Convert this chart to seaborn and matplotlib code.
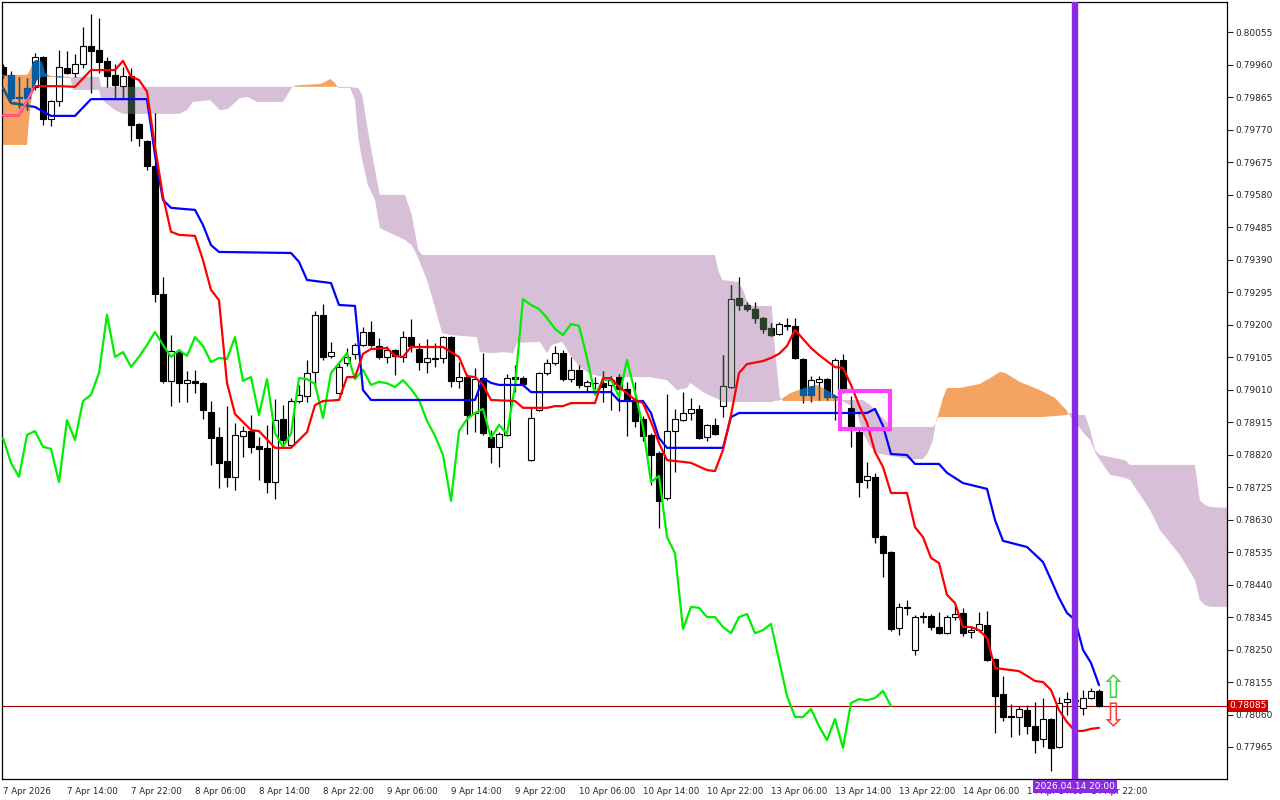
import numpy as np
import matplotlib
matplotlib.use("Agg")
import matplotlib.pyplot as plt
import matplotlib.transforms as mtransforms
from matplotlib.patches import Rectangle
from matplotlib.path import Path
import seaborn as sns

sns.set_style("white")
plt.rcParams['font.family'] = ['DejaVu Sans']

# ---- H1 candles, 7 Apr 06:00 .. 14 Apr 23:00 ----
open_ = [
    .79955, .79863, .79863, .79863, .79896, .79983, .79802, .79855, .79951, .79936,
    .79963, .80015, .80004, .79972, .79931, .79898, .79928, .79787, .79738, .79664,
    .79290, .79036, .79120, .79030, .79036, .79030, .78945, .78872, .78802, .78755,
    .78875, .78889, .78845, .78840, .78740, .78924, .78848, .78977, .78992, .79062,
    .79229, .79109, .79000, .79088, .79115, .79141, .79179, .79138, .79106, .79126,
    .79106, .79164, .79129, .79091, .79103, .79103, .79164, .79036, .79047, .78942,
    .79044, .78872, .78843, .78878, .79047, .79044, .78804, .78951, .79059, .79088,
    .79117, .79041, .79068, .79021, .79030, .79030, .79024, .79047, .79012, .78980,
    .78924, .78878, .78825, .78693, .78889, .78921, .78942, .78954, .78872, .78907,
    .78962, .79018, .79278, .79258, .79246, .79220, .79191, .79173, .79199, .79196,
    .79100, .78995, .79033, .79041, .78989, .79097, .78957, .78886, .78746, .78755,
    .78582, .78535, .78313, .78375, .78249, .78348, .78348, .78316, .78298, .78345,
    .78357, .78301, .78307, .78322, .78222, .78120, .78056, .78053, .78073, .78026,
    .77988, .78047, .77965, .78097, .78100, .78079, .78108, .78129]
high = [
    .79963, .79942, .79925, .79922, .79995, .79986, .79857, .80004, .80001, .79992,
    .80071, .80109, .80097, .79983, .79963, .79954, .79951, .79790, .79740, .79819,
    .79340, .79170, .79126, .79065, .79068, .79032, .78977, .78901, .78962, .78913,
    .78904, .78936, .78872, .78907, .78983, .78965, .78986, .79024, .79097, .79240,
    .79261, .79150, .79088, .79132, .79147, .79194, .79211, .79161, .79138, .79129,
    .79182, .79217, .79147, .79158, .79147, .79167, .79167, .79091, .79056, .79074,
    .79117, .78892, .78886, .79056, .79082, .79050, .78957, .79062, .79100, .79138,
    .79126, .79106, .79082, .79038, .79047, .79065, .79050, .79056, .79033, .79033,
    .78933, .78883, .78831, .78998, .78954, .79003, .78986, .78965, .78910, .78927,
    .79112, .79316, .79340, .79267, .79267, .79223, .79205, .79208, .79220, .79220,
    .79103, .79050, .79050, .79044, .79103, .79115, .78992, .78901, .78799, .78766,
    .78585, .78538, .78386, .78395, .78351, .78360, .78354, .78360, .78351, .78380,
    .78372, .78316, .78360, .78363, .78225, .78173, .78091, .78085, .78088, .78097,
    .78108, .78050, .78111, .78126, .78117, .78132, .78138, .78135]
low = [
    .79922, .79857, .79834, .79828, .79887, .79784, .79781, .79840, .79934, .79925,
    .79951, .79878, .79936, .79896, .79863, .79863, .79738, .79723, .79653, .79267,
    .79030, .78962, .78974, .78974, .79000, .78924, .78790, .78723, .78726, .78717,
    .78813, .78825, .78746, .78708, .78690, .78848, .78843, .78971, .78974, .79012,
    .79097, .79103, .78998, .79079, .79100, .79138, .79135, .79100, .79088, .79053,
    .79091, .79120, .79068, .79059, .79077, .79088, .79018, .79015, .78881, .78886,
    .78878, .78796, .78784, .78875, .79003, .79021, .78802, .78948, .79053, .79082,
    .79036, .79033, .79015, .79003, .79012, .78974, .78951, .78948, .78875, .78901,
    .78860, .78731, .78606, .78687, .78769, .78919, .78921, .78866, .78860, .78878,
    .78930, .79015, .79243, .79240, .79205, .79176, .79167, .79170, .79185, .79100,
    .78971, .78974, .78980, .78980, .78921, .79000, .78843, .78696, .78723, .78562,
    .78462, .78304, .78293, .78351, .78234, .78328, .78307, .78295, .78295, .78336,
    .78290, .78284, .78301, .78217, .78006, .78041, .77994, .78000, .78003, .77947,
    .77965, .77895, .77962, .78059, .78079, .78059, .78105, .78082]
close_ = [
    .79931, .79931, .79866, .79893, .79983, .79802, .79855, .79954, .79936, .79963,
    .80015, .80001, .79969, .79928, .79901, .79928, .79784, .79746, .79664, .79290,
    .79036, .79123, .79030, .79038, .79030, .78951, .78869, .78796, .78755, .78878,
    .78889, .78843, .78837, .78740, .78921, .78863, .78977, .78995, .79059, .79229,
    .79106, .79120, .79077, .79106, .79141, .79179, .79141, .79106, .79126, .79109,
    .79164, .79138, .79091, .79103, .79100, .79164, .79036, .79047, .78936, .79041,
    .78883, .78843, .78881, .79044, .79041, .79027, .78927, .79059, .79088, .79117,
    .79041, .79068, .79024, .79033, .79029, .79018, .79038, .79012, .78980, .78919,
    .78875, .78819, .78685, .78889, .78924, .78942, .78954, .78869, .78907, .78881,
    .79021, .79275, .79258, .79246, .79220, .79188, .79170, .79202, .79197, .79103,
    .78995, .79038, .79041, .78989, .79097, .79003, .78901, .78740, .78758, .78579,
    .78532, .78310, .78375, .78372, .78345, .78345, .78316, .78298, .78345, .78354,
    .78298, .78307, .78325, .78219, .78114, .78053, .78053, .78076, .78026, .77985,
    .78047, .77962, .78094, .78105, .78102, .78108, .78129, .78085]

# ---- Tenkan-sen (red) ----
tenkan_x = [0, 2, 4, 7, 9, 11, 14, 15, 16, 17,
            18, 19, 20, 21, 22, 24, 25, 26, 27, 28,
            29, 31, 32, 34, 36, 38, 39, 40, 42, 43,
            44, 45, 46, 48, 49, 50, 51, 55, 56, 57,
            58, 59, 60, 61, 64, 65, 68, 69, 70, 71,
            74, 75, 76, 77, 78, 79, 80, 81, 82, 83,
            85, 86, 88, 89, 90, 91, 92, 93, 95, 96,
            97, 98, 99, 101, 102, 104, 105, 106, 107, 108,
            109, 110, 111, 113, 114, 115, 116, 117, 118, 119,
            120, 121, 122, 123, 124, 125, 127, 128, 129, 130,
            131, 132, 133, 134, 135, 136, 137]
tenkan_y = [.79812, .79812, .79898, .79898, .79896, .79945, .79945, .79972, .79926, .79916,
            .79882, .79721, .79575, .79472, .79463, .79460, .79389, .79302, .79272, .79030,
            .78939, .78892, .78889, .78840, .78840, .78886, .78965, .78977, .78980, .79047,
            .79047, .79115, .79129, .79132, .79109, .79106, .79135, .79135, .79120, .79106,
            .79050, .79047, .79024, .78980, .78977, .78957, .78957, .78962, .78962, .78971,
            .78971, .79044, .79044, .79018, .79000, .78980, .78971, .78916, .78854, .78804,
            .78799, .78796, .78775, .78772, .78834, .78936, .79059, .79085, .79094, .79103,
            .79115, .79138, .79185, .79132, .79112, .79076, .79074, .79024, .78965, .78913,
            .78828, .78784, .78708, .78708, .78608, .78579, .78518, .78503, .78410, .78386,
            .78316, .78316, .78307, .78284, .78196, .78193, .78187, .78173, .78158, .78155,
            .78132, .78073, .78038, .78012, .78012, .78018, .78021]

# ---- Kijun-sen (blue) ----
kijun_x = [0, 1, 4, 6, 9, 11, 18, 19, 20, 21,
           24, 25, 26, 27, 36, 37, 38, 41, 42, 44,
           45, 46, 59, 60, 61, 62, 65, 66, 76, 77,
           80, 81, 82, 83, 90, 91, 92, 108, 109, 110,
           111, 113, 114, 117, 118, 120, 123, 124, 125, 128,
           130, 131, 132, 133, 134, 135, 136, 137]
kijun_y = [.79893, .79849, .79837, .79811, .79811, .79860, .79860, .79697, .79565, .79542,
           .79536, .79492, .79433, .79413, .79410, .79384, .79331, .79322, .79258, .79255,
           .79009, .78980, .78980, .79044, .79030, .79024, .79024, .79003, .79003, .78977,
           .78977, .78942, .78869, .78840, .78840, .78930, .78942, .78942, .78954, .78904,
           .78822, .78819, .78793, .78793, .78767, .78737, .78720, .78629, .78568, .78550,
           .78506, .78454, .78401, .78357, .78337, .78249, .78211, .78146]

# ---- Kumo (Senkou Span A / B, shifted 26 bars ahead) ----
cloud_x = [-0.5, 3.0, 3.25, 3.5, 3.75, 4.25, 4.9, 5.25, 5.9, 8.4,
           8.75, 12.0, 12.25, 13.0, 14.0, 15.0, 22.1, 23.0, 23.75, 25.9,
           27.1, 28.1, 29.6, 30.6, 31.75, 35.0, 36.1, 36.6, 37.1, 39.6,
           40.25, 40.9, 41.5, 41.9, 43.4, 44.0, 44.4, 44.9, 45.6, 46.5,
           47.1, 50.25, 51.1, 51.9, 52.4, 53.0, 53.75, 54.25, 54.9, 55.9,
           59.25, 59.6, 61.1, 62.5, 63.75, 64.25, 67.1, 68.0, 68.6, 69.9,
           70.9, 72.1, 73.4, 75.0, 80.9, 83.0, 84.25, 85.5, 85.9, 87.5,
           89.0, 89.4, 89.9, 91.9, 92.5, 93.1, 93.6, 96.1, 96.5, 97.1,
           97.5, 98.4, 100.5, 101.75, 103.0, 104.6, 105.1, 105.9, 106.75, 107.5,
           108.4, 109.25, 110.25, 111.1, 113.4, 115.0, 115.6, 116.25, 116.6, 116.9,
           117.5, 118.0, 119.6, 122.1, 123.4, 124.6, 125.25, 127.1, 129.6, 131.5,
           132.9, 133.4, 134.6, 135.25, 135.9, 136.5, 137.1, 138.4, 140.25, 140.9,
           143.4, 144.6, 147.1, 149.0, 149.6, 150.25, 150.9, 153.5]
span_a = [.79931, .79931, .79939, .79951, .79969, .79975, .79969, .79936, .79928, .79925,
          .79887, .79887, .79863, .79846, .79828, .79817, .79817, .79828, .79852, .79857,
          .79828, .79831, .79863, .79866, .79852, .79852, .79893, .79900, .79901, .79904,
          .79910, .79919, .79907, .79893, .79893, .79857, .79749, .79682, .79609, .79565,
          .79483, .79448, .79433, .79395, .79366, .79331, .79272, .79229, .79176, .79170,
          .79164, .79120, .79117, .79120, .79117, .79147, .79150, .79117, .79141, .79150,
          .79112, .79076, .79056, .79047, .79047, .79038, .79009, .79015, .79030, .79003,
          .78986, .78983, .78974, .78974, .78974, .78974, .78974, .78974, .78977, .78979,
          .78986, .79000, .79018, .79024, .79009, .78986, .78974, .78965, .78942, .78883,
          .78843, .78825, .78819, .78816, .78807, .78807, .78825, .78863, .78916, .78936,
          .78986, .79015, .79015, .79027, .79044, .79062, .79059, .79033, .79009, .78986,
          .78951, .78933, .78898, .78878, .78863, .78828, .78804, .78761, .78752, .78746,
          .78658, .78600, .78527, .78454, .78395, .78380, .78375, .78375]
span_b = [.79726, .79726, .79799, .79849, .79887, .79916, .79925, .79925, .79925, .79922,
          .79925, .79925, .79896, .79896, .79896, .79896, .79896, .79896, .79896, .79896,
          .79896, .79896, .79896, .79896, .79896, .79896, .79896, .79896, .79896, .79896,
          .79896, .79896, .79896, .79896, .79896, .79893, .79893, .79872, .79770, .79653,
          .79580, .79580, .79521, .79419, .79404, .79404, .79404, .79404, .79404, .79404,
          .79404, .79404, .79404, .79404, .79404, .79404, .79404, .79404, .79404, .79404,
          .79404, .79404, .79404, .79404, .79404, .79404, .79404, .79404, .79404, .79404,
          .79404, .79360, .79331, .79325, .79302, .79264, .79255, .79255, .79126, .78989,
          .78977, .78977, .78977, .78977, .78977, .78977, .78980, .78980, .78980, .78980,
          .78965, .78945, .78921, .78901, .78901, .78901, .78901, .78901, .78913, .78930,
          .78930, .78930, .78930, .78930, .78930, .78930, .78930, .78930, .78930, .78933,
          .78936, .78942, .78936, .78936, .78892, .78834, .78819, .78813, .78804, .78790,
          .78790, .78790, .78790, .78790, .78687, .78673, .78667, .78664]

time_labels = ["7 Apr 2026", "7 Apr 14:00", "7 Apr 22:00", "8 Apr 06:00", "8 Apr 14:00",
               "8 Apr 22:00", "9 Apr 06:00", "9 Apr 14:00", "9 Apr 22:00", "10 Apr 06:00",
               "10 Apr 14:00", "10 Apr 22:00", "13 Apr 06:00", "13 Apr 14:00", "13 Apr 22:00",
               "14 Apr 06:00", "14 Apr 14:00", "14 Apr 22:00"]
price_ticks = [0.77965, 0.78060, 0.78155, 0.78250, 0.78345, 0.78440, 0.78535, 0.78630,
               0.78725, 0.78820, 0.78915, 0.79010, 0.79105, 0.79200, 0.79295, 0.79390,
               0.79485, 0.79580, 0.79675, 0.79770, 0.79865, 0.79960, 0.80055]
marker_bar = 134
marker_text = "2026.04.14 20:00"
shift = 26

THISTLE = '#d8bfd8'
SANDY = '#f4a460'

o = np.array(open_); h = np.array(high); l = np.array(low); c = np.array(close_)
bars = np.arange(len(c))
assert len(o) == len(h) == len(l) == len(c) == 138
assert len(tenkan_x) == len(tenkan_y) and len(kijun_x) == len(kijun_y)
assert len(cloud_x) == len(span_a) == len(span_b)

fig = plt.figure(figsize=(12.8, 8), dpi=100)
ax = fig.add_axes([2 / 1280, 21 / 800, 1225 / 1280, 777 / 800])
ax.set_xlim(-0.125, 153.0)
ax.set_ylim(0.778714, 0.801441)

# kumo
sa = np.array(span_a); sb = np.array(span_b)
kumo_up = ax.fill_between(cloud_x, sa, sb, where=sa >= sb, interpolate=True,
                          color=SANDY, lw=0, zorder=1)
kumo_dn = ax.fill_between(cloud_x, sa, sb, where=sa < sb, interpolate=True,
                          color=THISTLE, lw=0, zorder=1)
clip_up = Path.make_compound_path(*kumo_up.get_paths())
clip_dn = Path.make_compound_path(*kumo_dn.get_paths())

# last price line
ax.axhline(c[-1], color='#a00000', lw=0.8, zorder=2)

up = c >= o
lo = np.minimum(o, c)
hgt = np.maximum(np.abs(c - o), 0.000015)


def draw_candles(edge, face_up, face_dn, z, clip=None):
    arts = [ax.vlines(bars, l, h, color=edge, lw=0.9, zorder=z)]
    arts += list(ax.bar(bars[up], hgt[up], bottom=lo[up], width=0.68, color=face_up,
                        edgecolor=edge, lw=0.8, zorder=z + 0.1).patches)
    arts += list(ax.bar(bars[~up], hgt[~up], bottom=lo[~up], width=0.68, color=face_dn,
                        edgecolor=edge, lw=0.8, zorder=z + 0.1).patches)
    if clip is not None:
        for a in arts:
            a.set_clip_path(clip, ax.transData)


# candles, plus the tinted look they get where they cross the kumo
draw_candles('black', 'white', 'black', 3)
draw_candles('#2b402b', THISTLE, '#2b402b', 3.3, clip_dn)
draw_candles('#0b5ba0', '#0b5ba0', '#0b5ba0', 3.3, clip_up)

# ichimoku lines
sns.lineplot(x=list(range(len(c) - shift)), y=c[shift:], color='#00ee00',
             lw=1.6, ax=ax, zorder=5, estimator=None, sort=False)
sns.lineplot(x=kijun_x, y=kijun_y, color='#0000ff', lw=1.6, ax=ax, zorder=5,
             estimator=None, sort=False)
sns.lineplot(x=kijun_x, y=kijun_y, color='#106868', lw=1.6, ax=ax, zorder=5.1,
             estimator=None, sort=False)
ax.lines[-1].set_clip_path(clip_up, ax.transData)
sns.lineplot(x=tenkan_x, y=tenkan_y, color='#ff0000', lw=1.6, ax=ax, zorder=6,
             estimator=None, sort=False)
sns.lineplot(x=tenkan_x, y=tenkan_y, color='#ff5fb0', lw=1.6, ax=ax, zorder=6.1,
             estimator=None, sort=False)
ax.lines[-1].set_clip_path(clip_up, ax.transData)

# highlighted breakdown
ax.add_patch(Rectangle((104.6, 0.78895), 6.3, 0.00111, fill=False,
                       edgecolor='#ff40ff', lw=3, zorder=7))

# time marker
ax.axvline(marker_bar, color='#8a2be2', lw=4.6, zorder=8)
tr = mtransforms.blended_transform_factory(ax.transData, ax.transAxes)
ax.text(marker_bar, -0.004, marker_text, transform=tr, ha='center', va='top',
        fontsize=6.5, color='white', zorder=20, clip_on=False,
        bbox=dict(facecolor='#8a2be2', edgecolor='none', pad=1.6))

# signal arrows
ax.text(len(c) + 0.75, 0.78132, '\u21e7', color='#3fcf3f', fontsize=23,
        ha='center', va='center', zorder=9)
ax.text(len(c) + 0.75, 0.78050, '\u21e9', color='#ff3b3b', fontsize=23,
        ha='center', va='center', zorder=9)

# axes
ax.yaxis.tick_right()
ax.set_yticks(price_ticks)
ax.set_yticklabels([f"{p:.5f}" for p in price_ticks])
ax.tick_params(axis='y', direction='out', length=4, width=0.8, labelsize=6.5, pad=2)
ax.set_xticks(np.arange(0, len(c), 8))
ax.set_xticklabels(time_labels, ha='left')
ax.tick_params(axis='x', direction='out', length=5, width=0.8, labelsize=6.2, pad=1)
for s in ax.spines.values():
    s.set_color('black'); s.set_linewidth(0.9)
ax.grid(False)

tr2 = mtransforms.blended_transform_factory(ax.transAxes, ax.transData)
ax.text(1.002, c[-1], f"{c[-1]:.5f}", transform=tr2, ha='left', va='center',
        fontsize=6.5, color='white', zorder=20, clip_on=False,
        bbox=dict(facecolor='#cc0000', edgecolor='none', pad=1.2))

fig.savefig("out.png", dpi=100)
